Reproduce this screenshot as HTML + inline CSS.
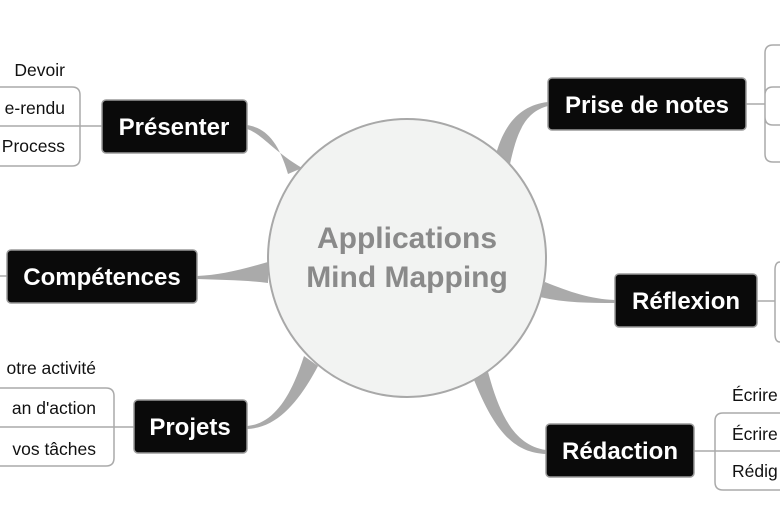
<!DOCTYPE html>
<html><head><meta charset="utf-8"><style>
body{margin:0;background:#fff;width:780px;height:516px;overflow:hidden}
svg{display:block}
.n{fill:#0a0a0a;stroke:#9a9a9a;stroke-width:1.5}
.nt{font-family:"Liberation Sans",sans-serif;font-weight:bold;font-size:24px;fill:#fff;text-anchor:middle}
.s{font-family:"Liberation Sans",sans-serif;font-size:17.5px;fill:#111}
.b{fill:none;stroke:#aaa;stroke-width:1.5}
.c{fill:#aaa}
</style></head><body>
<svg width="780" height="516" viewBox="0 0 780 516">
<path class="c" d="M288,174 C278,140 265,128 247,125 L247,129 C262,134 272,150 302,168 Z"/>
<path class="c" d="M268,262 C240,270 220,275 197,276 L197,279 C222,280 245,280 268,283 Z"/>
<path class="c" d="M304,356 C290,400 272,424 247,426 L247,429 C278,428 300,400 318,366 Z"/>
<path class="c" d="M495,158 C503,125 520,105 548,102 L548,106 C525,112 517,132 510,164 Z"/>
<path class="c" d="M545,282 C570,292 590,299 615,300 L615,303 C590,303 565,303 540,297 Z"/>
<path class="c" d="M487,368 C498,410 512,445 546,450 L546,454 C508,453 490,420 472,375 Z"/>
<circle cx="407" cy="258" r="139" fill="#f2f3f2" stroke="#a8a8a8" stroke-width="2"/>
<text x="407" y="248" font-family="Liberation Sans,sans-serif" font-weight="bold" font-size="30" fill="#8a8a8a" text-anchor="middle">Applications</text>
<text x="407" y="287" font-family="Liberation Sans,sans-serif" font-weight="bold" font-size="30" fill="#8a8a8a" text-anchor="middle">Mind Mapping</text>
<path class="b" d="M0,87 H72 Q80,87 80,95 V158 Q80,166 72,166 H0 M0,126 H102"/>
<path class="b" d="M0,276 H7"/>
<path class="b" d="M0,388 H106 Q114,388 114,396 V458 Q114,466 106,466 H0 M0,427 H134"/>
<path class="b" d="M746,104 H765 M780,45 H773 Q765,45 765,53 V154 Q765,162 773,162 H780 M780,87 H773 Q765,87 765,95 V117 Q765,125 773,125 H780"/>
<path class="b" d="M757,301 H775 M780,262 Q775,262 775,270 V334 Q775,342 780,342"/>
<path class="b" d="M694,451 H780 M780,413 H723 Q715,413 715,421 V482 Q715,490 723,490 H780"/>
<rect class="n" x="102" y="100" width="145" height="53" rx="4"/><text class="nt" x="174" y="135">Présenter</text>
<rect class="n" x="7" y="250" width="190" height="53" rx="4"/><text class="nt" x="102" y="285">Compétences</text>
<rect class="n" x="134" y="400" width="113" height="53" rx="4"/><text class="nt" x="190" y="435">Projets</text>
<rect class="n" x="548" y="78" width="198" height="52" rx="4"/><text class="nt" x="647" y="113">Prise de notes</text>
<rect class="n" x="615" y="274" width="142" height="53" rx="4"/><text class="nt" x="686" y="309">Réflexion</text>
<rect class="n" x="546" y="424" width="148" height="53" rx="4"/><text class="nt" x="620" y="459">Rédaction</text>
<text class="s" x="65" y="76" text-anchor="end">Devoir</text>
<text class="s" x="65" y="114" text-anchor="end">e-rendu</text>
<text class="s" x="65" y="152" text-anchor="end">Process</text>
<text class="s" x="96" y="374" text-anchor="end">otre activité</text>
<text class="s" x="96" y="414" text-anchor="end">an d'action</text>
<text class="s" x="96" y="455" text-anchor="end">vos tâches</text>
<text class="s" x="732" y="401">Écrire</text>
<text class="s" x="732" y="440">Écrire</text>
<text class="s" x="732" y="477">Rédig</text>
</svg>
</body></html>
